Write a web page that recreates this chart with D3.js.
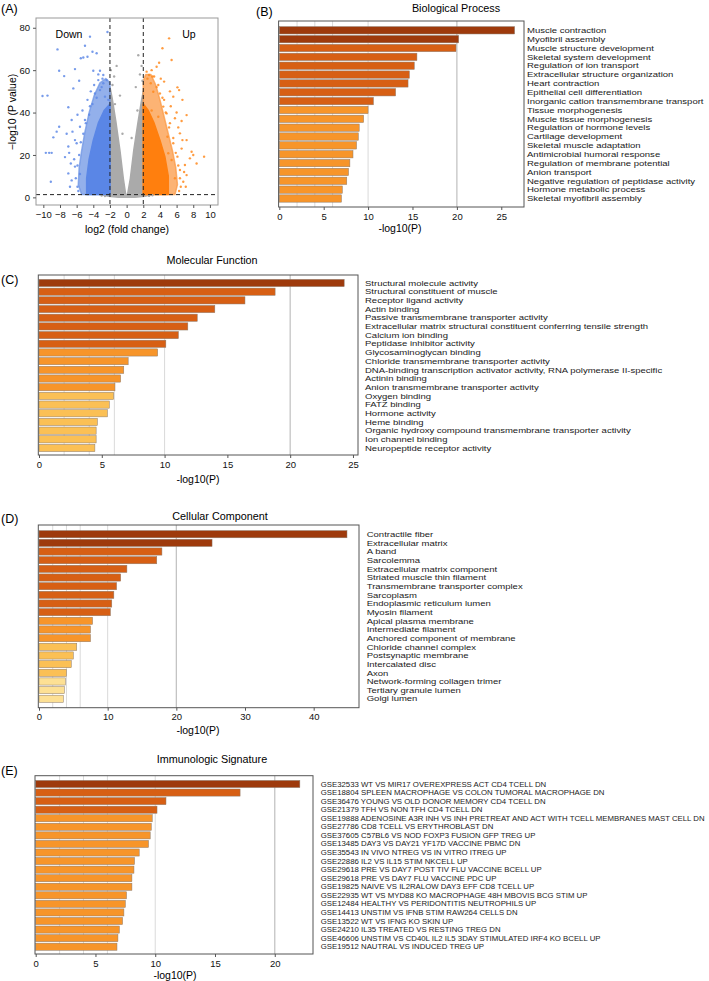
<!DOCTYPE html>
<html>
<head>
<meta charset="utf-8">
<script src="https://cdn.jsdelivr.net/npm/d3@7"></script>
<style>
body { margin: 0; background: #fff; }
svg { font-family: "Liberation Sans", Arial, sans-serif; }
</style>
</head>
<body>
<script>
// ---------- (A) volcano ----------
// scattered points [log2FC, -log10 p]
var downPoints = [[-2.3,78],[-4.4,75.8],[-5,71.5],[-8.3,69.8],[-3.6,68],[-4.1,68.7],[-5.5,65.6],[-5.2,66],[-4.7,66.3],
  [-8.1,59.7],[-6.2,60.5],[-7.5,57.2],[-4,59.7],[-3.2,59.7],[-3.4,58],[-2.8,57.7],[-10.1,47.8],[-9.5,48],[-6.4,51.4],
  [-5.7,55],[-7,42.5],[-8.1,33.3],[-8.4,31],[-8.8,28.3],[-9.3,21],[-9.7,21],[-9,21],[-9.1,7.4],[-7.2,30],[-7,24],
  [-7.4,19],[-6.6,36.5],[-6.7,16],[-6.2,14.5],[-6,25.5],[-5.3,41],[-4.7,46],[-4.4,43],[-3.8,49],[-3.2,50.6],
  [-2.8,53.8],[-2.4,55.3],[-3.4,55.3],[-2.6,47.5],[-2.2,46],[-5.6,33.3],[-5,36.5],[-6.2,27],[-6.6,8],[-5.9,5],
  [-7,11.3],[-5.8,3],[-6.1,9],[-5.9,15],[-5.7,20],[-5.5,26],[-5.2,30],[-4.9,35],[-4.5,39],[-4.1,44],[-3.6,47],
  [-3,52],[-6.3,18],[-6.8,5],[-5.6,11],[-4.3,50],[-3.9,53],[-2.9,56],[-6.5,31],[-5.9,39],[-6.9,21]];
var upPoints = [[5.1,75],[4.3,70.3],[5.4,64.8],[3.9,63.5],[3.6,61.6],[3,60],[2.4,59.3],[2.7,57.7],[3.3,57],[4.1,56],
  [4.5,54.6],[6.1,51.9],[6.3,50.6],[6.7,46],[5.3,43],[7.2,38.8],[5.8,37.3],[5.2,35],[6.4,30.2],[4.9,28.6],[7.2,27],
  [6.6,23],[7.8,21.5],[8,20],[9.3,19.2],[7.6,18.4],[7,15.3],[6.4,12.9],[7.2,10.5],[5.8,9],[4.8,39.6],[4.5,46],
  [3.6,52],[3.2,49.8],[4,49],[5.6,47.5],[2.9,53.8],[6.2,33],[6.7,27],[5.6,25.5],[6.1,19.2],[5.4,17.6],[5,20.8],
  [8.4,16],[6.8,7.4],[6.5,5],[4.4,42.8],[3.8,38],[3,41],[6.3,3],[6.4,9],[6.2,15],[5.9,21],[5.6,28],[5.1,33],
  [4.7,40],[4.3,47],[3.8,53],[3.1,57],[2.5,56],[6.9,12],[7.1,5],[6,40],[5.2,50],[6.6,36]];
var grayPoints = [[-1.2,62],[1.4,67],[-1.5,57],[1.6,58],[-0.8,48],[1.1,52],[-1.7,53],[1.8,62],[-1.9,60],[1.9,55],
  [-2.6,0.6],[2.7,0.7],[-3,0.9],[3.1,1],[-1.4,44],[1.3,41],[-0.5,30],[0.6,28]];
// outlines of the dense clouds
var downOuter = [[-2,1.3],[-5.4,1.3],[-5.8,6],[-5.7,14],[-5.4,22],[-5.0,31],[-4.5,40],[-3.9,48],[-3.2,54],[-2.5,56],[-2,54]];
var downInner = [[-2,1.3],[-4.8,1.3],[-4.8,9],[-4.5,18],[-4.0,27],[-3.4,35],[-2.7,41],[-2,44]];
var upOuter = [[2,1.3],[5.8,1.3],[6.1,6],[5.9,14],[5.5,22],[5.0,30],[4.5,38],[4.0,46],[3.5,53],[2.9,58],[2.3,58],[2,55]];
var upInner = [[2,1.3],[5,1.3],[5,10],[4.6,19],[4.0,27],[3.3,35],[2.6,41],[2,44]];
var grayLeft = [[-2,0.9],[-2,52],[-1.75,47],[-1.3,36],[-0.8,22],[-0.4,9],[-0.1,1]];
var grayRight = [[2,0.9],[2,50],[1.8,46],[1.35,35],[0.85,22],[0.45,9],[0.1,1]];
var grayBase = [[-3,1.3],[3,1.3],[2.2,0.5],[1,0.05],[-1,0.05],[-2.2,0.5]];
var fcCut = 2, pCut = 1.3;
var volcanoXTicks = [-10,-8,-6,-4,-2,0,2,4,6,8,10];
var volcanoYTicks = [0,20,40,60,80];

// ---------- (B) Biological Process ----------
var bpTerms = ["Muscle contraction","Myofibril assembly","Muscle structure development","Skeletal system development",
  "Regulation of ion transport","Extracellular structure organization","Heart contraction","Epithelial cell differentiation",
  "Inorganic cation transmembrane transport","Tissue morphogenesis","Muscle tissue morphogenesis","Regulation of hormone levels",
  "Cartilage development","Skeletal muscle adaptation","Antimicrobial humoral response","Regulation of membrane potential",
  "Anion transport","Negative regulation of peptidase activity","Hormone metabolic process","Skeletal myofibril assembly"];
var bpValues = [26.5,20.2,19.9,15.5,15.2,14.65,14.5,13.1,10.6,10.0,9.5,9.0,8.9,8.7,8.3,7.95,7.8,7.6,7.1,7.0];
var bpLevels = [0,0,1,1,1,1,1,1,1,2,2,2,2,2,2,2,2,2,2,2];

// ---------- (C) Molecular Function ----------
var mfTerms = ["Structural molecule activity","Structural constituent of muscle","Receptor ligand activity","Actin binding",
  "Passive transmembrane transporter activity","Extracellular matrix structural constituent conferring tensile strength",
  "Calcium ion binding","Peptidase inhibitor activity","Glycosaminoglycan binding","Chloride transmembrane transporter activity",
  "DNA-binding transcription activator activity, RNA polymerase II-specific","Actinin binding",
  "Anion transmembrane transporter activity","Oxygen binding","FATZ binding","Hormone activity","Heme binding",
  "Organic hydroxy compound transmembrane transporter activity","Ion channel binding","Neuropeptide receptor activity"];
var mfValues = [24.3,18.8,16.4,14.0,12.6,11.85,11.1,10.1,9.45,7.1,6.75,6.5,6.05,5.95,5.6,5.45,4.65,4.55,4.55,4.45];
var mfLevels = [0,1,1,1,1,1,1,1,2,2,2,2,2,3,3,3,3,3,3,3];

// ---------- (D) Cellular Component ----------
var ccTerms = ["Contractile fiber","Extracellular matrix","A band","Sarcolemma","Extracellular matrix component",
  "Striated muscle thin filament","Transmembrane transporter complex","Sarcoplasm","Endoplasmic reticulum lumen",
  "Myosin filament","Apical plasma membrane","Intermediate filament","Anchored component of membrane",
  "Chloride channel complex","Postsynaptic membrane","Intercalated disc","Axon","Network-forming collagen trimer",
  "Tertiary granule lumen","Golgi lumen"];
var ccValues = [44.85,25.2,17.9,17.15,12.8,11.9,11.3,10.9,10.6,10.4,7.8,7.5,7.5,5.5,5.0,4.7,4.0,3.85,3.7,3.55];
var ccLevels = [0,0,1,1,1,1,1,1,1,1,2,2,2,3,3,3,3,4,4,4];

// ---------- (E) Immunologic Signature ----------
var isTerms = ["GSE32533 WT VS MIR17 OVEREXPRESS ACT CD4 TCELL DN","GSE18804 SPLEEN MACROPHAGE VS COLON TUMORAL MACROPHAGE DN",
  "GSE36476 YOUNG VS OLD DONOR MEMORY CD4 TCELL DN","GSE21379 TFH VS NON TFH CD4 TCELL DN",
  "GSE19888 ADENOSINE A3R INH VS INH PRETREAT AND ACT WITH TCELL MEMBRANES MAST CELL DN","GSE27786 CD8 TCELL VS ERYTHROBLAST DN",
  "GSE37605 C57BL6 VS NOD FOXP3 FUSION GFP TREG UP","GSE13485 DAY3 VS DAY21 YF17D VACCINE PBMC DN",
  "GSE35543 IN VIVO NTREG VS IN VITRO ITREG UP","GSE22886 IL2 VS IL15 STIM NKCELL UP",
  "GSE29618 PRE VS DAY7 POST TIV FLU VACCINE BCELL UP","GSE29618 PRE VS DAY7 FLU VACCINE PDC UP",
  "GSE19825 NAIVE VS IL2RALOW DAY3 EFF CD8 TCELL UP","GSE22935 WT VS MYD88 KO MACROPHAGE 48H MBOVIS BCG STIM UP",
  "GSE12484 HEALTHY VS PERIDONTITIS NEUTROPHILS UP","GSE14413 UNSTIM VS IFNB STIM RAW264 CELLS DN",
  "GSE13522 WT VS IFNG KO SKIN UP","GSE24210 IL35 TREATED VS RESTING TREG DN",
  "GSE46606 UNSTIM VS CD40L IL2 IL5 3DAY STIMULATED IRF4 KO BCELL UP","GSE19512 NAUTRAL VS INDUCED TREG UP"];
var isValues = [22.1,17.1,10.9,10.15,9.75,9.67,9.58,9.44,8.66,8.27,8.22,8.05,8.05,7.6,7.5,7.38,7.27,7.0,6.88,6.8];
var isLevels = [0,1,1,1,2,2,2,2,2,2,2,2,2,2,2,2,2,2,2,2];

var gridValues = [2, 4, 6, 10, 20];
var levelColors = ["#9e3a0c", "#d75f14", "#f7952a", "#fbc055", "#fde094"];

var svg = d3.select("body").append("svg")
    .attr("width", 709)
    .attr("height", 981);

// ---------- volcano ----------
var vx = d3.scaleLinear().domain([-10.88, 10.97]).range([36, 218]);
var vy = d3.scaleLinear().domain([-3.6, 84.6]).range([205, 18]);
var va = svg.append("g");

var poly = d3.line().x(function(d) { return vx(d[0]); }).y(function(d) { return vy(d[1]); })
    .curve(d3.curveLinearClosed);

va.append("defs").append("clipPath").attr("id", "vclip")
    .append("rect").attr("x", 36).attr("y", 18).attr("width", 182).attr("height", 187);
var vp = va.append("g").attr("clip-path", "url(#vclip)");

[[grayLeft, "#aaaaaa", 1], [grayRight, "#aaaaaa", 1], [grayBase, "#b0b0b0", 1],
 [downOuter, "#6f96e4", 0.75], [downInner, "#5a86e6", 1],
 [upOuter, "#fb9a45", 0.75], [upInner, "#ff7f0e", 1]].forEach(function(p) {
    vp.append("path").attr("d", poly(p[0])).attr("fill", p[1]).attr("fill-opacity", p[2])
        .attr("stroke", p[1]).attr("stroke-opacity", p[2]).attr("stroke-width", 1.5).attr("stroke-linejoin", "round");
});

vp.selectAll(".gp").data(grayPoints).enter().append("circle")
    .attr("cx", function(d) { return vx(d[0]); }).attr("cy", function(d) { return vy(d[1]); })
    .attr("r", 1.2).attr("fill", "#aaaaaa");
vp.selectAll(".dp").data(downPoints).enter().append("circle")
    .attr("cx", function(d) { return vx(d[0]); }).attr("cy", function(d) { return vy(d[1]); })
    .attr("r", 1.2).attr("fill", "#5f8ae6").attr("fill-opacity", 0.85);
vp.selectAll(".up").data(upPoints).enter().append("circle")
    .attr("cx", function(d) { return vx(d[0]); }).attr("cy", function(d) { return vy(d[1]); })
    .attr("r", 1.2).attr("fill", "#ff8a1e").attr("fill-opacity", 0.85);

// thresholds
[-fcCut, fcCut].forEach(function(c) {
    va.append("line").attr("x1", vx(c)).attr("x2", vx(c)).attr("y1", 18).attr("y2", 205)
        .attr("stroke", "#222").attr("stroke-width", 1).attr("stroke-dasharray", "4,3");
});
va.append("line").attr("x1", 36).attr("x2", 218).attr("y1", vy(pCut)).attr("y2", vy(pCut))
    .attr("stroke", "#222").attr("stroke-width", 1).attr("stroke-dasharray", "4,3");

va.append("rect").attr("x", 36).attr("y", 18).attr("width", 182).attr("height", 187)
    .attr("fill", "none").attr("stroke", "#999").attr("stroke-width", 1);

var vxa = va.append("g").attr("transform", "translate(0,205)")
    .call(d3.axisBottom(vx).tickValues(volcanoXTicks).tickSize(3).tickSizeOuter(0));
var vya = va.append("g").attr("transform", "translate(36,0)")
    .call(d3.axisLeft(vy).tickValues(volcanoYTicks).tickSize(3).tickSizeOuter(0));
[vxa, vya].forEach(function(a) {
    a.select(".domain").remove();
    a.selectAll(".tick line").attr("stroke", "#555");
    a.selectAll("text").attr("font-size", 9.5).attr("fill", "#111").attr("font-family", null);
});

va.append("text").attr("x", 127).attr("y", 233).attr("text-anchor", "middle")
    .attr("font-size", 10.5).text("log2 (fold change)");
va.append("text").attr("transform", "translate(12,112) rotate(-90)").attr("text-anchor", "middle")
    .attr("dominant-baseline", "central").attr("font-size", 10.5).text("\u2212log10 (P value)");
va.append("text").attr("x", 69).attr("y", 38).attr("text-anchor", "middle").attr("font-size", 10.5).text("Down");
va.append("text").attr("x", 189).attr("y", 38).attr("text-anchor", "middle").attr("font-size", 10.5).text("Up");
va.append("text").attr("x", 1).attr("y", 13).attr("font-size", 12.5).text("(A)");

// ---------- bar panels ----------
function drawBars(o) {
    var g = svg.append("g");
    var n = o.terms.length;
    var x = d3.scaleLinear().domain([0, o.xmax]).range([o.x0, o.x1]);
    var step = (o.lastY - o.firstY) / (n - 1);
    var y = d3.scaleBand().domain(d3.range(n))
        .range([o.firstY - step / 2, o.lastY + step / 2]).paddingInner(0.17).paddingOuter(0.085);

    g.selectAll(".grid").data(gridValues.filter(function(v) { return v < o.xmax; })).enter()
        .append("line")
        .attr("x1", function(d) { return x(d); }).attr("x2", function(d) { return x(d); })
        .attr("y1", o.y0).attr("y2", o.y1)
        .attr("stroke", function(d) { return d == 20 ? "#c4c4c4" : "#dadada"; })
        .attr("stroke-width", function(d) { return d == 20 ? 1.3 : 1; });

    g.selectAll(".bar").data(o.values).enter().append("rect")
        .attr("x", x(0))
        .attr("y", function(d, i) { return y(i); })
        .attr("width", function(d) { return x(d) - x(0); })
        .attr("height", y.bandwidth())
        .attr("fill", function(d, i) { return levelColors[o.levels[i]]; })
        .attr("stroke", "#8c7b6c").attr("stroke-width", 0.5);

    g.append("rect").attr("x", o.x0 - 0.7).attr("y", o.y0)
        .attr("width", o.x1 - o.x0 + 0.7).attr("height", o.y1 - o.y0)
        .attr("fill", "none").attr("stroke", "#555").attr("stroke-width", 1);

    var ax = g.append("g").attr("transform", "translate(0," + o.y1 + ")")
        .call(d3.axisBottom(x).tickValues(o.ticks).tickSize(3).tickSizeOuter(0));
    ax.select(".domain").remove();
    ax.selectAll(".tick line").attr("stroke", "#555");
    ax.selectAll("text").attr("font-size", 9.5).attr("fill", "#111").attr("font-family", null);

    // labels: smaller font stretched sideways so rows keep the reference width without overlapping
    g.selectAll(".lab").data(o.terms).enter().append("text")
        .attr("transform", function(d, i) {
            return "translate(" + o.labelX + "," + (y(i) + y.bandwidth() / 2) + ") scale(" + o.labelStretch + ",1)";
        })
        .attr("dominant-baseline", "central")
        .attr("font-size", o.labelSize)
        .attr("fill", "#1a1a1a")
        .text(function(d) { return d; });

    g.append("text").attr("x", o.titleX).attr("y", o.titleY).attr("text-anchor", "middle")
        .attr("dominant-baseline", "central").attr("font-size", 10.8).text(o.title);
    g.append("text").attr("x", o.xlabX).attr("y", o.xlabY).attr("text-anchor", "middle")
        .attr("dominant-baseline", "central").attr("font-size", 10.5).text("-log10(P)");
    g.append("text").attr("x", o.tagX).attr("y", o.tagY)
        .attr("dominant-baseline", "central").attr("font-size", 12.5).text(o.tag);
}

drawBars({terms: bpTerms, values: bpValues, levels: bpLevels, xmax: 27.56,
    x0: 279.3, x1: 524, y0: 21, y1: 207, firstY: 30.3, lastY: 198.5, labelX: 527,
    labelSize: 8.0, labelStretch: 1.19,
    ticks: [0,5,10,15,20,25], title: "Biological Process", titleX: 456, titleY: 8,
    xlabX: 400, xlabY: 228, tag: "(B)", tagX: 256, tagY: 12});

drawBars({terms: mfTerms, values: mfValues, levels: mfLevels, xmax: 25.4,
    x0: 39, x1: 358, y0: 275, y1: 455, firstY: 283, lastY: 448, labelX: 365,
    labelSize: 7.8, labelStretch: 1.22,
    ticks: [0,5,10,15,20,25], title: "Molecular Function", titleX: 212, titleY: 260,
    xlabX: 198, xlabY: 479, tag: "(C)", tagX: 1, tagY: 280});

drawBars({terms: ccTerms, values: ccValues, levels: ccLevels, xmax: 46.6,
    x0: 39, x1: 359, y0: 525, y1: 707.7, firstY: 534.2, lastY: 698.8, labelX: 366.7,
    labelSize: 7.8, labelStretch: 1.22,
    ticks: [0,10,20,30,40], title: "Cellular Component", titleX: 220, titleY: 516,
    xlabX: 198, xlabY: 730, tag: "(D)", tagX: 1, tagY: 519});

drawBars({terms: isTerms, values: isValues, levels: isLevels, xmax: 23.2,
    x0: 35.7, x1: 313, y0: 775.7, y1: 954, firstY: 784, lastY: 946.7, labelX: 320.7,
    labelSize: 7.8, labelStretch: 1.0,
    ticks: [0,5,10,15,20], title: "Immunologic Signature", titleX: 212, titleY: 759,
    xlabX: 175, xlabY: 975, tag: "(E)", tagX: 1, tagY: 771});
</script>
</body>
</html>
